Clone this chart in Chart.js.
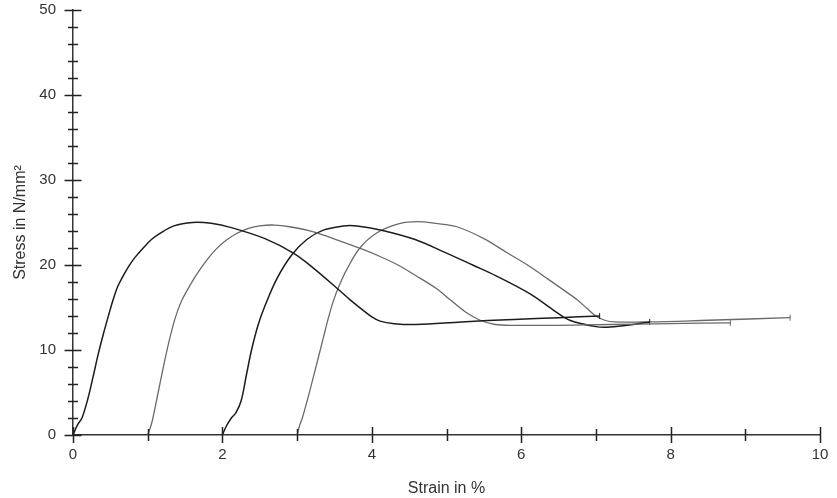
<!DOCTYPE html>
<html>
<head>
<meta charset="utf-8">
<script src="https://cdn.jsdelivr.net/npm/chart.js@4.4.1/dist/chart.umd.min.js"></script>
<style>
  html, body { margin: 0; padding: 0; background: #fff; }
  canvas { display: block; }
</style>
</head>
<body>
<canvas id="chart" width="837" height="498"></canvas>
<script>
// curves: strain in %, stress in N/mm²
const strain1 = [0, 0.06, 0.12, 0.2, 0.27, 0.34, 0.41, 0.48, 0.54, 0.6, 0.67, 0.75, 0.83, 0.94, 1.05, 1.16, 1.35, 1.6, 1.85, 2.12, 2.57, 2.95, 3.21, 3.53, 3.71, 3.88, 4.0, 4.11, 4.3, 4.6, 5.2, 5.9, 6.5, 7.05];
const stress1 = [0, 1.2, 2.0, 4.3, 6.9, 9.6, 12.0, 14.2, 16.0, 17.5, 18.7, 19.9, 20.9, 22.0, 23.0, 23.7, 24.6, 25.0, 24.9, 24.4, 23.1, 21.4, 19.7, 17.3, 15.9, 14.7, 13.9, 13.4, 13.1, 13.0, 13.3, 13.6, 13.8, 14.0];

const strain2 = [1.0, 1.04, 1.07, 1.14, 1.21, 1.28, 1.34, 1.4, 1.46, 1.52, 1.62, 1.71, 1.82, 1.92, 2.05, 2.19, 2.35, 2.5, 2.7, 2.9, 3.22, 3.55, 3.89, 4.11, 4.35, 4.58, 4.87, 5.05, 5.25, 5.45, 5.65, 5.9, 6.5, 7.2, 8.0, 8.8];
const stress2 = [0, 1.0, 2.0, 5.0, 8.0, 10.8, 12.9, 14.6, 15.9, 16.9, 18.4, 19.6, 20.9, 21.9, 22.9, 23.7, 24.3, 24.6, 24.7, 24.5, 23.9, 22.9, 21.8, 21.0, 20.0, 18.8, 17.2, 15.9, 14.5, 13.5, 13.0, 12.9, 12.9, 13.0, 13.1, 13.2];

const strain3 = [2.0, 2.05, 2.12, 2.18, 2.25, 2.32, 2.39, 2.48, 2.57, 2.73, 2.93, 3.13, 3.35, 3.62, 3.8, 4.13, 4.58, 5.0, 5.35, 5.67, 6.12, 6.43, 6.65, 7.0, 7.19, 7.5, 7.72];
const stress3 = [0, 1.0, 2.0, 2.6, 4.0, 7.0, 10.0, 13.0, 15.2, 18.4, 21.2, 23.0, 24.1, 24.6, 24.6, 24.1, 23.0, 21.4, 20.0, 18.7, 16.6, 14.7, 13.5, 12.75, 12.7, 13.0, 13.3];

const strain4 = [3.0, 3.03, 3.07, 3.14, 3.22, 3.35, 3.42, 3.49, 3.57, 3.66, 3.84, 4.07, 4.38, 4.62, 4.85, 5.14, 5.5, 5.8, 6.12, 6.35, 6.56, 6.75, 6.88, 7.0, 7.12, 7.25, 7.7, 8.5, 9.6];
const stress4 = [0, 1.0, 2.0, 4.2, 6.9, 11.4, 13.8, 15.9, 17.7, 19.4, 22.0, 23.8, 24.9, 25.1, 24.9, 24.5, 23.1, 21.5, 19.8, 18.4, 17.1, 15.9, 14.9, 14.0, 13.5, 13.3, 13.3, 13.5, 13.8];

const xLabels = ['0', '2', '4', '6', '8', '10'];
const yLabels = ['0', '10', '20', '30', '40', '50'];

function pairs(xs, ys) {
  return xs.map((v, i) => ({ x: v, y: ys[i] }));
}

function curve(xs, ys, color, width) {
  return {
    data: pairs(xs, ys),
    borderColor: color,
    borderWidth: width,
    showLine: true,
    tension: 0.35,
    pointStyle: 'line',
    pointRotation: 90,
    pointBorderColor: color,
    pointBorderWidth: 1,
    pointRadius: ctx => ctx.dataIndex === xs.length - 1 ? 3 : 0,
    pointHoverRadius: 0
  };
}

// tick marks that cross the axis lines
const crossTicks = {
  id: 'crossTicks',
  afterDraw(chart) {
    const { ctx, scales: { x, y } } = chart;
    ctx.save();
    ctx.strokeStyle = '#222';
    ctx.lineWidth = 1.5;
    ctx.beginPath();
    x.ticks.forEach(t => {
      const px = Math.round(x.getPixelForValue(t.value)) + 0.5;
      const len = t.value % 2 === 0 ? 8 : 6;
      ctx.moveTo(px, y.bottom - len);
      ctx.lineTo(px, y.bottom + len);
    });
    y.ticks.forEach(t => {
      const py = Math.round(y.getPixelForValue(t.value)) + 0.5;
      const len = t.value % 10 === 0 ? 8.5 : 5;
      ctx.moveTo(x.left - len, py);
      ctx.lineTo(x.left + len, py);
    });
    ctx.stroke();
    ctx.restore();
  }
};

const font = { family: '"Liberation Sans", Arial, sans-serif', size: 15 };

new Chart(document.getElementById('chart'), {
  type: 'scatter',
  data: {
    datasets: [
      curve(strain1, stress1, '#1c1c1c', 1.5),
      curve(strain2, stress2, '#6a6a6a', 1.3),
      curve(strain3, stress3, '#1c1c1c', 1.5),
      curve(strain4, stress4, '#6a6a6a', 1.3)
    ]
  },
  options: {
    responsive: false,
    animation: false,
    layout: { padding: 0 },
    plugins: {
      legend: { display: false },
      tooltip: { enabled: false }
    },
    scales: {
      x: {
        type: 'linear',
        min: 0,
        max: 10,
        grid: { display: false, drawTicks: false },
        border: { display: true, color: '#333', width: 1.5 },
        ticks: {
          stepSize: 1,
          padding: 11,
          color: '#333',
          font: font,
          maxRotation: 0,
          autoSkip: false,
          callback: v => xLabels.includes(String(v)) ? String(v) : ''
        },
        title: {
          display: true,
          text: 'Strain in %',
          color: '#333',
          font: { family: font.family, size: 16 },
          padding: { top: 8, bottom: 0 }
        },
        afterFit: s => { s.height = 63; s.paddingLeft = 0; s.paddingRight = 17; }
      },
      y: {
        type: 'linear',
        min: 0,
        max: 50,
        grid: { display: false, drawTicks: false },
        border: { display: true, color: '#333', width: 1.5 },
        ticks: {
          stepSize: 2,
          padding: 17,
          color: '#333',
          font: font,
          autoSkip: false,
          callback: v => yLabels.includes(String(v)) ? String(v) : ''
        },
        title: {
          display: true,
          text: 'Stress in N/mm²',
          color: '#333',
          font: { family: font.family, size: 16 },
          padding: { top: 11, bottom: 0 }
        },
        afterFit: s => { s.width = 73; s.paddingTop = 10; s.paddingBottom = 0; }
      }
    }
  },
  plugins: [crossTicks]
});
</script>
</body>
</html>
